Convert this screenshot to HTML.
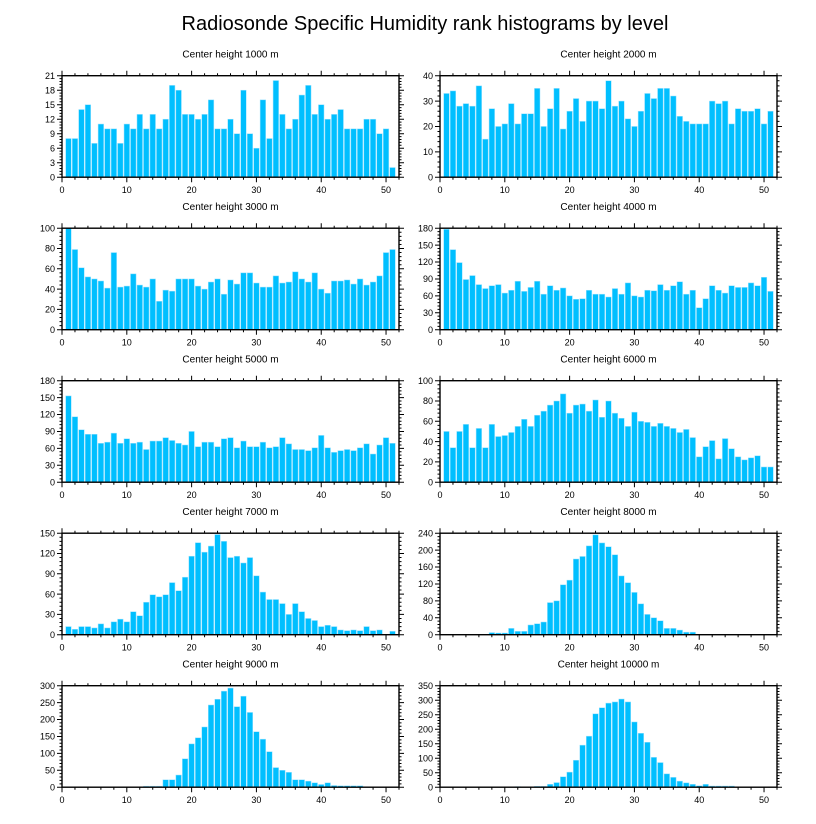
<!DOCTYPE html>
<html><head><meta charset="utf-8"><style>
html,body{margin:0;padding:0;background:#fff}
svg{display:block;font-family:"Liberation Sans",Arial,sans-serif}
</style></head><body>
<svg id="chart" width="816" height="824" viewBox="0 0 816 824" xmlns="http://www.w3.org/2000/svg">
<text x="425" y="30" font-size="20" text-anchor="middle">Radiosonde Specific Humidity rank histograms by level</text>
</svg>
<script>
const levels = ["1000","2000","3000","4000","5000","6000","7000","8000","9000","10000"];
const yMax = [21,40,100,180,180,100,150,240,300,350];
const yStep = [3,10,20,30,30,20,30,40,50,50];
const xTicks = [0,10,20,30,40,50];
const h1000 = [8,8,14,15,7,11,10,10,7,11,10,13,10,13,10,12,19,18,13,13,12,13,16,10,10,12,9,18,9,6,16,8,20,13,10,12,17,19,13,15,12,13,14,10,10,10,12,12,9,10,2];
const h2000 = [33,34,28,29,28,36,15,27,20,21,29,21,25,25,35,20,27,35,19,26,31,22,30,30,27,38,28,30,23,20,26,33,31,35,35,32,24,22,21,21,21,30,29,30,21,27,26,26,27,21,26];
const h3000 = [100,79,61,52,50,48,41,76,42,43,55,44,42,50,28,39,38,50,50,50,43,40,47,50,35,49,45,56,56,46,42,42,53,46,47,57,50,47,56,40,36,48,48,49,45,50,44,47,53,76,79];
const h4000 = [178,142,119,89,96,80,73,78,80,65,70,86,68,75,86,63,78,70,74,60,54,55,70,63,63,58,73,63,83,60,58,70,69,80,70,78,85,63,70,39,55,78,70,65,78,75,75,83,78,93,68];
const h5000 = [153,116,93,85,85,69,71,87,69,77,69,71,58,73,73,79,74,69,66,90,63,71,71,63,77,79,61,73,63,63,71,61,63,79,68,58,58,56,61,83,61,53,56,58,56,61,68,50,66,79,69];
const h6000 = [50,34,50,57,34,53,34,57,45,46,49,55,62,55,66,70,76,80,87,68,76,77,70,81,64,80,68,63,55,69,60,59,55,58,55,53,49,52,44,25,35,41,23,43,33,25,22,24,26,15,15];
const h7000 = [12,8,12,12,10,16,10,19,23,19,34,28,48,59,56,59,77,65,85,116,136,122,131,148,138,114,116,106,114,87,63,52,52,46,30,46,34,24,21,12,14,12,7,6,7,6,12,6,7,0,5];
const h8000 = [1,1,0,0,0,0,0,5,4,4,15,8,8,23,26,30,76,80,118,129,179,185,210,236,217,208,189,139,123,100,73,48,40,33,15,15,11,6,6,0,0,0,0,0,0,0,0,0,0,0,0];
const h9000 = [0,0,0,0,0,0,0,0,0,0,0,0,3,3,3,22,22,36,84,128,146,178,243,260,284,293,238,269,221,164,142,105,58,50,44,22,22,18,13,8,13,5,4,4,4,4,0,0,0,0,0];
const h10000 = [0,0,0,0,0,0,0,0,0,0,0,2,0,0,3,3,10,16,36,52,93,145,176,253,274,290,294,304,294,225,186,155,103,85,46,34,21,15,10,5,10,4,4,4,4,0,0,0,0,0,0];
const series = [h1000,h2000,h3000,h4000,h5000,h6000,h7000,h8000,h9000,h10000];

const svg = document.getElementById('chart');
const NS = 'http://www.w3.org/2000/svg';
function mk(tag, attrs, parent){
  const e = document.createElementNS(NS, tag);
  for (const k in attrs) e.setAttribute(k, attrs[k]);
  parent.appendChild(e); return e;
}
const W = 337, H = 101.5, XMAX = 52;
for (let p = 0; p < 10; p++) {
  const col = p % 2, row = Math.floor(p / 2);
  const L = col ? 440 : 62, T = 75.7 + row * 152.5;
  const g = mk('g', {}, svg);
  
  
  const xs = v => L + v / XMAX * W;
  const ys = v => T + H - v / yMax[p] * H;
  const t = mk('text', {x: L + W/2, y: T - 18, 'font-size': 10, 'text-anchor': 'middle'}, g);
  
  
  t.textContent = 'Center height ' + levels[p] + ' m';
  const d = series[p];
  for (let i = 0; i < d.length; i++) {
    const c = i + 1, bw = 0.86;
    if (d[i] <= 0) continue;
    const r = mk('rect', {x: xs(c - bw/2), y: ys(d[i]), width: xs(bw) - L, height: ys(0) - ys(d[i]), fill: '#00bfff', stroke: '#9fe3ff', 'stroke-width': 0.5}, g);
    
    
  }
  const f = mk('rect', {x: L, y: T, width: W, height: H, fill: 'none', stroke: '#000', 'stroke-width': 1.4}, g);
  
  
  let path = '';
  for (let v = 0; v <= XMAX; v += 2) {
    const x = xs(v), len = v % 10 === 0 ? 5 : 2.5;
    path += `M${x},${T+H}v${len}M${x},${T}v${-len}`;
  }
  const nMinor = 5;
  for (let k = 0; k <= yMax[p] / yStep[p] * nMinor; k++) {
    const v = k * yStep[p] / nMinor, y = ys(v), len = k % nMinor === 0 ? 5 : 2.5;
    path += `M${L},${y}h${-len}M${L+W},${y}h${len}`;
  }
  mk('path', {d: path, stroke: '#000', 'stroke-width': 1, fill: 'none'}, g);
  for (const v of xTicks) {
    const tx = mk('text', {x: xs(v), y: T + H + 16, 'font-size': 9, 'text-anchor': 'middle'}, g);
    
    
    tx.textContent = v;
  }
  for (let v = 0; v <= yMax[p]; v += yStep[p]) {
    const ty = mk('text', {x: L - 7, y: ys(v) + 3.2, 'font-size': 9, 'text-anchor': 'end'}, g);
    
    
    ty.textContent = v;
  }
}
</script>
</body></html>
